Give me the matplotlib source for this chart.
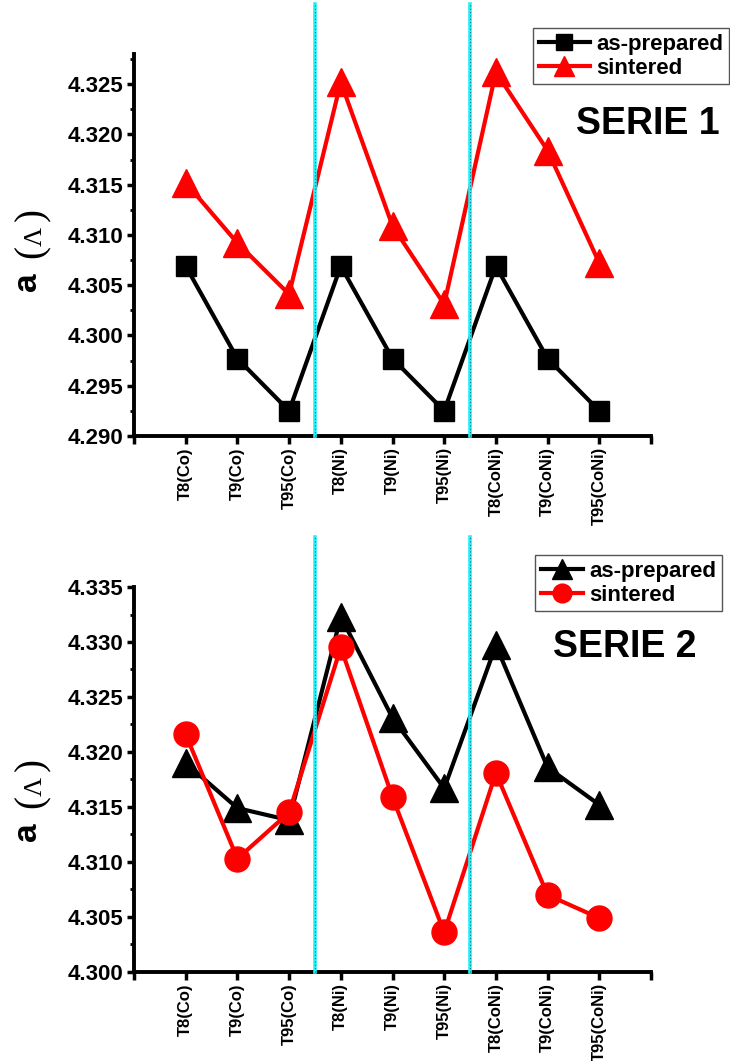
import numpy as np
import matplotlib
matplotlib.use("Agg")
import matplotlib.pyplot as plt

plt.rcParams['font.family'] = ['Liberation Sans', 'DejaVu Sans']
plt.rcParams['font.weight'] = 'bold'

# data
samples = ['T8(Co)', 'T9(Co)', 'T95(Co)', 'T8(Ni)', 'T9(Ni)', 'T95(Ni)',
           'T8(CoNi)', 'T9(CoNi)', 'T95(CoNi)']
xpos = np.arange(1, 10)

s1_prepared = [4.3069, 4.2977, 4.2925, 4.3069, 4.2977, 4.2925, 4.3069, 4.2977, 4.2925]
s1_sintered = [4.3152, 4.3092, 4.3041, 4.3252, 4.3109, 4.3031, 4.3262, 4.3184, 4.3072]

s2_prepared = [4.3190, 4.3149, 4.3138, 4.3323, 4.3231, 4.3167, 4.3297, 4.3186, 4.3152]
s2_sintered = [4.3216, 4.3103, 4.3145, 4.3295, 4.3159, 4.3036, 4.3181, 4.3070, 4.3049]

fig = plt.figure(figsize=(7.3, 10.61), dpi=100)
W, H = 730.0, 1061.0

def setup(ax, ylo, yhi):
    ax.set_xlim(0, 10)
    ax.set_ylim(ylo, yhi)
    for s in ['top', 'right']:
        ax.spines[s].set_visible(False)
    for s in ['left', 'bottom']:
        ax.spines[s].set_linewidth(2.8)
    ax.set_xticks(range(0, 11))
    ax.set_xticklabels([''] + samples + [''], rotation=90, fontsize=12, fontweight='bold')
    ax.set_yticks(np.arange(ylo, yhi + 1e-9, 0.005))
    ax.set_yticks(np.arange(ylo + 0.0025, yhi, 0.005), minor=True)
    ax.yaxis.set_major_formatter(matplotlib.ticker.FormatStrFormatter('%.3f'))
    ax.tick_params(axis='y', which='major', length=5, width=2.5, labelsize=16, pad=3)
    ax.tick_params(axis='y', which='minor', length=3, width=2)
    ax.tick_params(axis='x', which='major', length=6, width=2.5, pad=2)
    for lab in ax.get_yticklabels():
        lab.set_fontweight('bold')
    # separators
    for xv in [3.5, 6.5]:
        ax.axvline(xv, ymin=0, ymax=1.13, color='#22F0F8', lw=2.6, clip_on=False, zorder=5)
        ax.axvline(xv, ymin=0, ymax=1.13, color='#1A6E80', lw=0.8, ls=(0, (1, 2)),
                   clip_on=False, zorder=6)

# top panel
ax1 = fig.add_axes([134 / W, 1 - 436 / H, 517 / W, 382 / H])
ax1.plot(xpos, s1_prepared, '-s', color='black', lw=3, ms=15, label='as-prepared', zorder=3)
ax1.plot(xpos, s1_sintered, '-^', color='red', lw=3, ms=20, label='sintered', zorder=3)
setup(ax1, 4.290, 4.328)
ax1.set_yticks(np.arange(4.290, 4.3251, 0.005))
ax1.legend(loc='upper right', bbox_to_anchor=(729 / W, 1 - 28 / H), bbox_transform=fig.transFigure,
           borderaxespad=0, fancybox=False, edgecolor='#555555', framealpha=1,
           prop={'weight': 'bold', 'size': 16}, handlelength=2.3, handletextpad=0.3,
           labelspacing=0.15, borderpad=0.25, markerscale=0.75)
fig.text(648 / W, 1 - 124 / H, 'SERIE 1', ha='center', va='center', fontsize=27, fontweight='bold')

# bottom panel
ax2 = fig.add_axes([134 / W, 1 - 972 / H, 517 / W, 385 / H])
ax2.plot(xpos, s2_prepared, '-^', color='black', lw=3, ms=20, label='as-prepared', zorder=3)
ax2.plot(xpos, s2_sintered, '-o', color='red', lw=3, ms=18, label='sintered', zorder=4)
setup(ax2, 4.300, 4.335)
ax2.legend(loc='upper left', bbox_to_anchor=(535 / W, 1 - 555 / H), bbox_transform=fig.transFigure,
           borderaxespad=0, fancybox=False, edgecolor='#555555', framealpha=1,
           prop={'weight': 'bold', 'size': 16}, handlelength=1.9, handletextpad=0.3,
           labelspacing=0.15, borderpad=0.25, markerscale=0.75)
fig.text(625 / W, 1 - 647 / H, 'SERIE 2', ha='center', va='center', fontsize=27, fontweight='bold')

# y labels: bold "a" followed by "(Λ)" in a serif face
serif = ['Liberation Serif', 'DejaVu Serif']
for off in [0, 550]:
    kw = dict(rotation=90, rotation_mode='anchor', ha='left', va='baseline')
    fig.text(36 / W, 1 - (291 + off) / H, 'a', fontsize=24, fontweight='bold', **kw)
    fig.text(42 / W, 1 - (258 + off) / H, '(', fontsize=28, fontweight='normal', family=serif, **kw)
    fig.text(42 / W, 1 - (246 + off) / H, 'Λ', fontsize=19, fontweight='normal', family=serif, **kw)
    fig.text(42 / W, 1 - (221 + off) / H, ')', fontsize=28, fontweight='normal', family=serif, **kw)

fig.savefig('out.png', dpi=100)
